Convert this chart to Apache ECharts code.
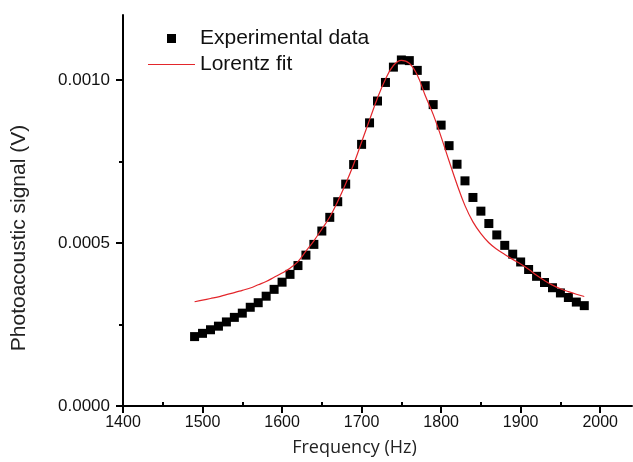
<!DOCTYPE html>
<html>
<head>
<meta charset="utf-8">
<title>Photoacoustic resonance</title>
<script src="https://cdn.jsdelivr.net/npm/echarts@6/dist/echarts.min.js"></script>
<style>
  html, body { margin: 0; padding: 0; background: #fff; }
  #main { width: 633px; height: 462px; }
</style>
</head>
<body>
<div id="main"></div>
<script>
// measured points (Hz, V)
var expFreq = [1490, 1500, 1510, 1520, 1530, 1540, 1550, 1560, 1570, 1580,
  1590, 1600, 1610, 1620, 1630, 1640, 1650, 1660, 1670, 1680,
  1690, 1700, 1710, 1720, 1730, 1740, 1750, 1760, 1770, 1780,
  1790, 1800, 1810, 1820, 1830, 1840, 1850, 1860, 1870, 1880,
  1890, 1900, 1910, 1920, 1930, 1940, 1950, 1960, 1970, 1980];
var expSignal = [0.000213, 0.000223, 0.000234, 0.000245, 0.000258, 0.000272, 0.000285, 0.000303, 0.000317, 0.000337,
  0.000358, 0.000380, 0.000404, 0.000431, 0.000463, 0.000496, 0.000537, 0.000579, 0.000627, 0.000681,
  0.000741, 0.000803, 0.000869, 0.000936, 0.000993, 0.001040, 0.001062, 0.001060, 0.001030, 0.000983,
  0.000925, 0.000862, 0.000799, 0.000742, 0.000691, 0.000640, 0.000598, 0.000560, 0.000525, 0.000493,
  0.000466, 0.000442, 0.000419, 0.000398, 0.000379, 0.000363, 0.000347, 0.000333, 0.000319, 0.000308];

// fitted curve
var fitFreq = expFreq;
var fitSignal = [0.000320, 0.000325, 0.000330, 0.000335, 0.000342, 0.000348, 0.000355, 0.000362, 0.000372, 0.000382,
  0.000395, 0.000408, 0.000423, 0.000443, 0.000475, 0.000507, 0.000543, 0.000580, 0.000628, 0.000682,
  0.000742, 0.000810, 0.000878, 0.000945, 0.001003, 0.001045, 0.001061, 0.001052, 0.001016, 0.000953,
  0.000895, 0.000826, 0.000752, 0.000680, 0.000615, 0.000565, 0.000529, 0.000501, 0.000481, 0.000465,
  0.000450, 0.000436, 0.000420, 0.000401, 0.000385, 0.000371, 0.000360, 0.000351, 0.000343, 0.000336];

var xMajor = [1400, 1500, 1600, 1700, 1800, 1900, 2000];
var xMinor = [1450, 1550, 1650, 1750, 1850, 1950];
var yMajor = [0, 0.0005, 0.001];
var yMinor = [0.00025, 0.00075];

function pairs(xs, ys) {
  return xs.map(function (x, i) { return [x, ys[i]]; });
}

var chart = echarts.init(document.getElementById("main"));

var axisColor = "#000";
var option = {
  animation: false,
  grid: { left: 123, right: 1, top: 15, bottom: 54 },
  legend: {
    orient: "vertical",
    left: 148,
    top: 28,
    padding: 0,
    itemWidth: 47,
    itemHeight: 9,
    itemGap: 5,
    textStyle: { fontFamily: "Liberation Sans", fontSize: 21, lineHeight: 21, color: "#111" },
    data: [
      { name: "Experimental data", icon: "path://M0,0H1V1H0Z" },
      { name: "Lorentz fit", icon: "path://M0,0H47V1.2H0Z" }
    ]
  },
  xAxis: [
    {
      type: "value",
      min: 1400,
      max: 2040,
      name: "Frequency (Hz)",
      nameLocation: "middle",
      nameGap: 33,
      nameTextStyle: { fontFamily: "Open Sans", fontSize: 18, color: "#222", padding: [0, 46, 0, 0] },
      axisLine: { lineStyle: { color: axisColor, width: 2 } },
      axisTick: { customValues: xMajor, length: 7, lineStyle: { color: axisColor, width: 2 } },
      axisLabel: {
        customValues: xMajor,
        margin: 9,
        fontFamily: "Liberation Sans",
        fontSize: 16,
        color: "#111",
        formatter: function (v) { return String(v); }
      },
      splitLine: { show: false }
    },
    {
      type: "value",
      min: 1400,
      max: 2040,
      axisLine: { show: false },
      axisTick: { customValues: xMinor, length: 4, lineStyle: { color: axisColor, width: 2 } },
      axisLabel: { show: false },
      splitLine: { show: false }
    }
  ],
  yAxis: [
    {
      type: "value",
      min: 0,
      max: 0.0012,
      name: "Photoacoustic signal (V)",
      nameLocation: "middle",
      nameGap: 93,
      nameTextStyle: { fontFamily: "Liberation Sans", fontSize: 21, color: "#222", padding: [0, 55, 0, 0] },
      axisLine: { show: true, lineStyle: { color: axisColor, width: 2 } },
      axisTick: { show: true, customValues: yMajor, length: 7, lineStyle: { color: axisColor, width: 2 } },
      axisLabel: {
        customValues: yMajor,
        margin: 13,
        fontFamily: "Liberation Sans",
        fontSize: 17,
        color: "#111",
        formatter: function (v) { return v.toFixed(4); }
      },
      splitLine: { show: false }
    },
    {
      type: "value",
      min: 0,
      max: 0.0012,
      position: "left",
      axisLine: { show: false },
      axisTick: { show: true, customValues: yMinor, length: 4, lineStyle: { color: axisColor, width: 2 } },
      axisLabel: { show: false },
      splitLine: { show: false }
    }
  ],
  series: [
    {
      name: "Experimental data",
      type: "scatter",
      symbol: "rect",
      symbolSize: 9,
      itemStyle: { color: "#000", opacity: 1 },
      data: pairs(expFreq, expSignal)
    },
    {
      name: "Lorentz fit",
      type: "line",
      smooth: 0.4,
      showSymbol: false,
      symbol: "none",
      lineStyle: { color: "#e3262b", width: 1.2 },
      itemStyle: { color: "#e3262b" },
      z: 3,
      data: pairs(fitFreq, fitSignal)
    }
  ]
};

chart.setOption(option);
</script>
</body>
</html>
